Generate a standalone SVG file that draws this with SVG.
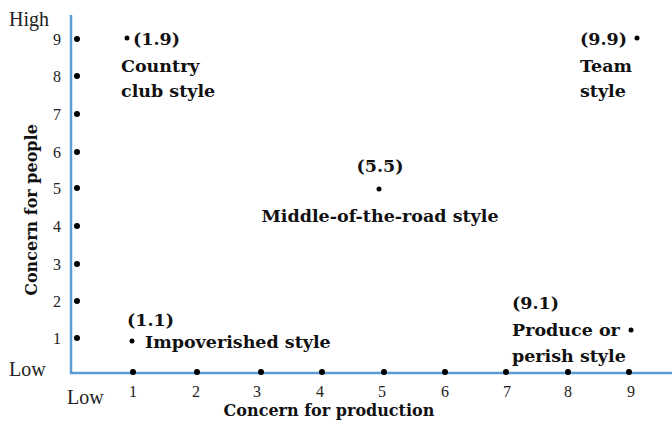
<svg xmlns="http://www.w3.org/2000/svg" width="672" height="425" viewBox="0 0 672 425">
<style>
.tick{font-family:"Liberation Serif",serif;font-size:16px;fill:#222}
.big{font-family:"Liberation Serif",serif;font-size:20px;fill:#222}
.lbl{font-family:"DejaVu Serif",serif;font-weight:bold;font-size:17.5px;fill:#111}
.ax{font-family:"DejaVu Serif",serif;font-weight:bold;font-size:16px;fill:#111}
.axis{stroke:#5b9bd5;stroke-width:2.5;fill:none}
.dot{fill:#000}
</style>
<rect width="672" height="425" fill="#fff"/>
<g id="connectors">
<path class="axis" d="M71,15 V373 H672"/>
</g>
<g id="y-ticks">
<text class="big" x="9" y="26">High</text>
<text class="big" x="9" y="376">Low</text>
<g text-anchor="end">
<text class="tick" x="61" y="45">9</text>
<text class="tick" x="61" y="82">8</text>
<text class="tick" x="61" y="120">7</text>
<text class="tick" x="61" y="158">6</text>
<text class="tick" x="61" y="194">5</text>
<text class="tick" x="61" y="232">4</text>
<text class="tick" x="61" y="270">3</text>
<text class="tick" x="61" y="307">2</text>
<text class="tick" x="61" y="344">1</text>
</g>
<circle class="dot" cx="77" cy="39" r="3"/>
<circle class="dot" cx="77" cy="76" r="3"/>
<circle class="dot" cx="77" cy="114" r="3"/>
<circle class="dot" cx="77" cy="152" r="3"/>
<circle class="dot" cx="77" cy="188" r="3"/>
<circle class="dot" cx="77" cy="226" r="3"/>
<circle class="dot" cx="77" cy="264" r="3"/>
<circle class="dot" cx="77" cy="301" r="3"/>
<circle class="dot" cx="77" cy="338" r="3"/>
</g>
<g id="x-ticks">
<text class="big" x="67" y="404">Low</text>
<g text-anchor="middle">
<text class="tick" x="133" y="397">1</text>
<text class="tick" x="196" y="397">2</text>
<text class="tick" x="257" y="397">3</text>
<text class="tick" x="320" y="397">4</text>
<text class="tick" x="382" y="397">5</text>
<text class="tick" x="445" y="397">6</text>
<text class="tick" x="507" y="397">7</text>
<text class="tick" x="568" y="397">8</text>
<text class="tick" x="631" y="397">9</text>
</g>
<circle class="dot" cx="133" cy="372" r="3"/>
<circle class="dot" cx="197" cy="372" r="3"/>
<circle class="dot" cx="261" cy="372" r="3"/>
<circle class="dot" cx="322" cy="372" r="3"/>
<circle class="dot" cx="384" cy="372" r="3"/>
<circle class="dot" cx="445" cy="372" r="3"/>
<circle class="dot" cx="506" cy="372" r="3"/>
<circle class="dot" cx="568" cy="372" r="3"/>
<circle class="dot" cx="629" cy="372" r="3"/>
</g>
<g id="axis-titles">
<text class="ax" x="329" y="416" text-anchor="middle">Concern for production</text>
<text class="ax" transform="translate(37,210) rotate(-90)" text-anchor="middle">Concern for people</text>
</g>
<g id="country-club">
<circle class="dot" cx="127" cy="38" r="2.5"/>
<text class="lbl" x="133" y="45">(1.9)</text>
<text class="lbl" x="121" y="72">Country</text>
<text class="lbl" x="121" y="97">club style</text>
</g>
<g id="team">
<circle class="dot" cx="637" cy="38" r="2.5"/>
<text class="lbl" x="580" y="45">(9.9)</text>
<text class="lbl" x="580" y="72">Team</text>
<text class="lbl" x="580" y="97">style</text>
</g>
<g id="middle">
<text class="lbl" x="380" y="172" text-anchor="middle">(5.5)</text>
<circle class="dot" cx="379" cy="189" r="2.5"/>
<text class="lbl" x="380" y="222" text-anchor="middle">Middle-of-the-road style</text>
</g>
<g id="impoverished">
<text class="lbl" x="127" y="326">(1.1)</text>
<circle class="dot" cx="132" cy="341" r="2.5"/>
<text class="lbl" x="145" y="348">Impoverished style</text>
</g>
<g id="produce">
<text class="lbl" x="512" y="309">(9.1)</text>
<text class="lbl" x="512" y="336">Produce or</text>
<circle class="dot" cx="631" cy="330" r="2.5"/>
<text class="lbl" x="512" y="362">perish style</text>
</g>
</svg>
